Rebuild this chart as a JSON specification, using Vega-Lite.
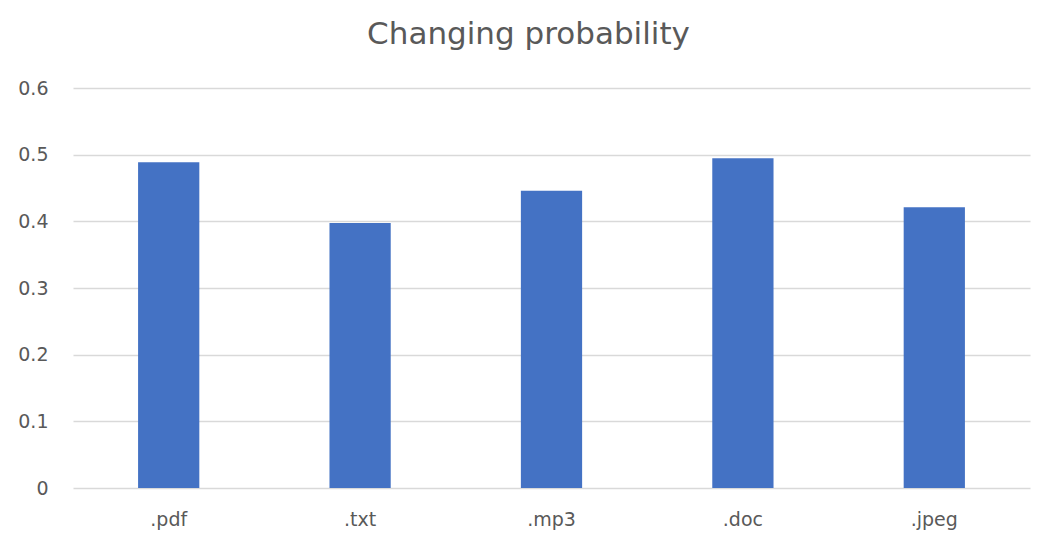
{
  "$schema": "https://vega.github.io/schema/vega-lite/v6.json",
  "width": 957,
  "height": 400,
  "autosize": {"type": "none"},
  "padding": {"left": 73, "top": 88, "right": 9, "bottom": 52},
  "background": "white",
  "title": {
    "text": "Changing probability",
    "font": "DejaVu Sans",
    "fontSize": 31,
    "fontWeight": "normal",
    "color": "#595959",
    "anchor": "middle",
    "dx": -23,
    "offset": 28
  },
  "config": {"view": {"stroke": null}},
  "data": {
    "values": [
      {"ext": ".pdf", "p": 0.4886},
      {"ext": ".txt", "p": 0.3974},
      {"ext": ".mp3", "p": 0.446},
      {"ext": ".doc", "p": 0.4946},
      {"ext": ".jpeg", "p": 0.421}
    ]
  },
  "mark": {"type": "bar", "color": "#4472C4"},
  "encoding": {
    "x": {
      "field": "ext",
      "type": "nominal",
      "sort": null,
      "scale": {"paddingInner": 0.68, "paddingOuter": 0.34},
      "axis": {
        "title": null,
        "domain": false,
        "ticks": false,
        "labelAngle": 0,
        "labelFont": "DejaVu Sans",
        "labelFontSize": 19,
        "labelColor": "#595959",
        "labelPadding": 22
      }
    },
    "y": {
      "field": "p",
      "type": "quantitative",
      "scale": {"domain": [0, 0.6]},
      "axis": {
        "title": null,
        "values": [0, 0.1, 0.2, 0.3, 0.4, 0.5, 0.6],
        "format": "~g",
        "domain": false,
        "ticks": false,
        "grid": true,
        "gridColor": "#d9d9d9",
        "gridWidth": 1.5,
        "labelFont": "DejaVu Sans",
        "labelFontSize": 19,
        "labelColor": "#595959",
        "labelPadding": 25
      }
    }
  }
}
